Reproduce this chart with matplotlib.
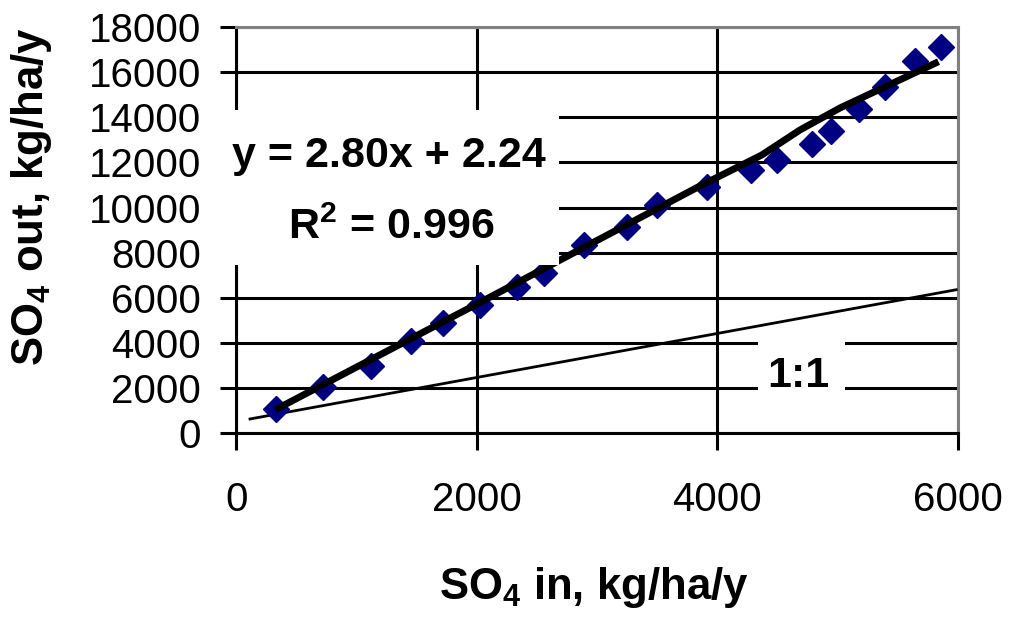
import matplotlib
matplotlib.use("Agg")
import matplotlib.pyplot as plt
from matplotlib.patches import Rectangle

plt.rcParams['font.family'] = ['Liberation Sans', 'DejaVu Sans']
plt.rcParams['mathtext.fontset'] = 'custom'
plt.rcParams['mathtext.rm'] = 'Liberation Sans'
plt.rcParams['mathtext.default'] = 'regular'

# Observed data (SO4 in vs SO4 out)
so4_in = [328, 723, 1118, 1450, 1721, 2027, 2337, 2559, 2891, 3247,
          3496, 3917, 4278, 4499, 4785, 4946, 5173, 5389, 5644, 5860]
so4_out = [1077, 2038, 2982, 4089, 4874, 5685, 6496, 7089, 8352, 9127,
           10115, 10926, 11666, 12109, 12805, 13394, 14369, 15330, 16509, 17102]

# Fitted line (as drawn)
fit_x = [322, 2027, 3856, 4369, 4687, 5020, 5838]
fit_y = [1040, 5800, 10960, 12330, 13441, 14415, 16464]

# 1:1 reference line (as drawn)
ref_x = [114, 5985]
ref_y = [634, 6360]

x_ticks = [0, 2000, 4000, 6000]
y_ticks = [0, 2000, 4000, 6000, 8000, 10000, 12000, 14000, 16000, 18000]

eq_label = "y = 2.80x + 2.24"
r2_label = "R$^2$ = 0.996"
ref_label = "1:1"

fig = plt.figure(figsize=(10.09, 6.17), dpi=100)
ax = fig.add_axes([236.3/1009, 1-433.3/617, 721.7/1009, 406.3/617])

ax.set_xlim(0, 6000)
ax.set_ylim(0, 18000)
ax.set_xticks(x_ticks)
ax.set_yticks(y_ticks)

ax.grid(True, color='black', linewidth=2.2)
for s in ['top', 'right']:
    ax.spines[s].set_color('#808080')
    ax.spines[s].set_linewidth(2.2)
for s in ['left', 'bottom']:
    ax.spines[s].set_color('black')
    ax.spines[s].set_linewidth(2.2)

ax.tick_params(axis='y', direction='out', length=11.5, width=2.2, pad=14, labelsize=29)
ax.tick_params(axis='x', direction='out', length=12, width=2.2, pad=22, labelsize=29)

ax.plot(ref_x, ref_y, color='black', linewidth=2.0, zorder=3, clip_on=False)
ax.plot(so4_in, so4_out, linestyle='none', marker='D', markersize=13.5,
        color='#000080', zorder=4, clip_on=False)
ax.plot(fit_x, fit_y, color='black', linewidth=5, zorder=5,
        solid_capstyle='butt', clip_on=False)

# label boxes
ax.add_patch(Rectangle((-0.0295, 0.4143), 0.4765, 0.3814, transform=ax.transAxes,
                       facecolor='white', edgecolor='none', zorder=10, clip_on=False))
ax.add_patch(Rectangle((0.7229, 0.0948), 0.1205, 0.1477, transform=ax.transAxes,
                       facecolor='white', edgecolor='none', zorder=10, clip_on=False))

ax.text(1270, 11790, eq_label, fontsize=31, fontweight='bold', ha='center',
        va='baseline', zorder=11)
ax.text(1290, 8630, r2_label, fontsize=31, fontweight='bold', ha='center',
        va='baseline', zorder=11)
ax.text(4669, 2065, ref_label, fontsize=31, fontweight='bold', ha='center',
        va='baseline', zorder=11)

fig.text(594/1009, 1-588/617, "SO$_4$ in, kg/ha/y", fontsize=31.5, fontweight='bold',
         ha='center', va='center')
fig.text(32/1009, 1-197/617, "SO$_4$ out, kg/ha/y", fontsize=31.5, fontweight='bold',
         ha='center', va='center', rotation=90)

fig.savefig("out.png", dpi=100)
